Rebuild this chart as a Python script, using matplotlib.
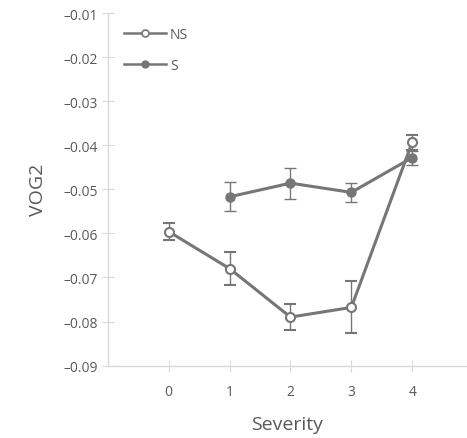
import matplotlib
matplotlib.use("Agg")
import matplotlib.pyplot as plt
from matplotlib.lines import Line2D

# datos
severity_ns = [0, 1, 2, 3, 4]
ns_mean = [-0.0596, -0.0680, -0.0790, -0.0768, -0.0393]
ns_err = [0.0020, 0.0037, 0.0030, 0.0059, 0.0017]

severity_s = [1, 2, 3, 4]
s_mean = [-0.0517, -0.0486, -0.0507, -0.0428]
s_err = [0.0033, 0.0035, 0.0022, 0.0016]

yticks = [-0.01, -0.02, -0.03, -0.04, -0.05, -0.06, -0.07, -0.08, -0.09]

plt.rcParams['font.family'] = ['Open Sans', 'DejaVu Sans']
gris = '#767676'
txt = '#595959'

fig = plt.figure(figsize=(4.67, 4.39), dpi=100)
ax = fig.add_axes([0.231, 0.165, 0.769, 0.803])

ax.errorbar(severity_s, s_mean, yerr=s_err, color=gris, lw=2.2, marker='o',
            ms=6.5, mfc=gris, mec=gris, ecolor=gris, elinewidth=1, capsize=4,
            capthick=1, zorder=3)
ax.errorbar(severity_ns, ns_mean, yerr=ns_err, color=gris, lw=2.2, marker='o',
            ms=6.5, mfc='white', mec=gris, mew=1.5, ecolor=gris, elinewidth=1,
            capsize=4, capthick=1, zorder=4)

ax.set_xlim(-1, 4.9)
ax.set_ylim(-0.09, -0.01)
ax.set_xticks(severity_ns)
ax.set_yticks(yticks)
ax.set_yticklabels([f"{v:.2f}".replace('-', '\u2013') for v in yticks])

for s in ['top', 'right']:
    ax.spines[s].set_visible(False)
for s in ['left', 'bottom']:
    ax.spines[s].set_color('#d9d9d9')
    ax.spines[s].set_linewidth(1)
ax.tick_params(axis='both', direction='inout', length=8, color='#d9d9d9',
               labelcolor=txt, labelsize=10)
ax.tick_params(axis='x', pad=9)
ax.tick_params(axis='y', pad=3)

ax.set_xlabel('Severity', fontsize=14, color=txt, labelpad=12)
ax.set_ylabel('VOG2', fontsize=14, color=txt, labelpad=12)

# leyenda solo con linea y marcador
h_ns = Line2D([], [], color=gris, lw=1.8, marker='o', ms=5, mfc='white',
              mec=gris, mew=1.2)
h_s = Line2D([], [], color=gris, lw=1.8, marker='o', ms=5, mfc=gris, mec=gris)
ax.legend([h_ns, h_s], ['NS', 'S'], loc='upper left', frameon=False,
          fontsize=10, labelcolor=txt, handlelength=3.0, handletextpad=0.3,
          labelspacing=1.1, bbox_to_anchor=(0.01, 0.995))

fig.savefig('out.png', dpi=100)
